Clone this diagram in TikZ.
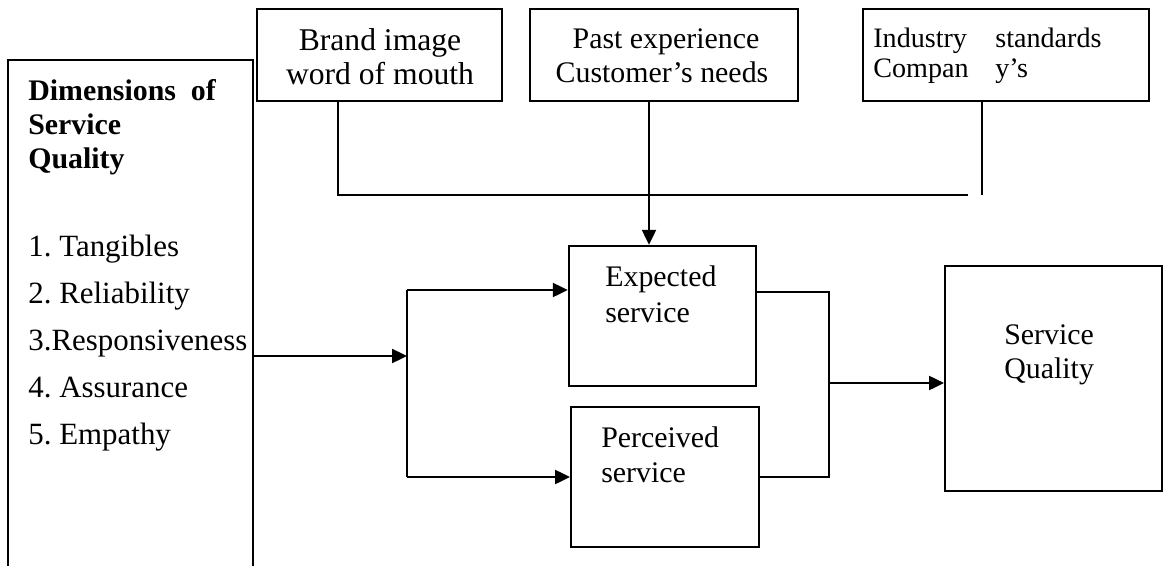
\documentclass[tikz,border=0pt]{standalone}
\usepackage{fontspec}
\setmainfont{Liberation Serif}
\usetikzlibrary{arrows.meta}
\usetikzlibrary{fit}
\usetikzlibrary{positioning}
\tikzset{box/.style = {draw, line width=1.1pt, inner sep=0pt}}
\tikzset{wire/.style = {line width=1.1pt}}
\tikzset{arr/.style = {wire, -{Triangle[length=8.5pt,width=8pt]}}}
\tikzset{lbl/.style = {anchor=base west, inner sep=0pt, font=\fontsize{17}{20}\selectfont\frenchspacing}}
\tikzset{blbl/.style = {lbl, font=\fontsize{17}{20}\selectfont\bfseries}}
\tikzset{ilbl/.style = {lbl, font=\fontsize{17.6}{20}\selectfont\frenchspacing}}
\tikzset{clbl/.style = {lbl, anchor=base}}
\tikzset{slbl/.style = {lbl, font=\fontsize{16}{19}\selectfont}}

\begin{document}
\begin{tikzpicture}[x=0.02cm, y=-0.02cm]
        \useasboundingbox (0,0) rectangle (1170,565);
        \clip (0,0) rectangle (1170,565);
        % boxes
        \node[box, line width=1.7pt, fit={(8,60) (253,640)}] (dims) {};
        \node[box, line width=1.5pt, fit={(257,9) (502,101)}] (brand) {};
        \node[box, fit={(530,9) (798,101)}] (past) {};
        \node[box, fit={(863,9) (1149,101)}] (industry) {};
        \node[box, line width=1.4pt, fit={(569,246) (756,386)}] (expected) {};
        \node[box, fit={(571,407) (759,547)}] (perceived) {};
        \node[box, fit={(945,266) (1162,491)}] (quality) {};
        % left column
        \node[blbl] (dims-1) at (28,100) {Dimensions\ \ of};
        \node[blbl] (dims-2) at (28,134) {Service};
        \node[blbl] (dims-3) at (28,168) {Quality};
        \node[ilbl] (item-1) at (28,256) {1. Tangibles};
        \node[ilbl] (item-2) at (28,303) {2. Reliability};
        \node[ilbl] (item-3) at (28,350) {3.Responsiveness};
        \node[ilbl] (item-4) at (28,397) {4. Assurance};
        \node[ilbl] (item-5) at (28,444) {5. Empathy};
        % top row
        \node[clbl, font=\fontsize{18}{20}\selectfont] (brand-1) at (380,50) {Brand image};
        \node[clbl, font=\fontsize{18}{20}\selectfont] (brand-2) at (380,84) {word of mouth};
        \node[clbl] (past-1) at (666,48) {Past experience};
        \node[clbl] (past-2) at (662,82) {Customer’s needs};
        \node[slbl] (ind-1) at (873,47) {Industry};
        \node[slbl] (ind-2) at (995,47) {standards};
        \node[slbl] (ind-3) at (873,77) {Compan};
        \node[slbl] (ind-4) at (995,77) {y’s};
        % middle and right
        \node[lbl] (exp-1) at (605,286) {Expected};
        \node[lbl] (exp-2) at (605,322) {service};
        \node[lbl] (per-1) at (601,447) {Perceived};
        \node[lbl] (per-2) at (601,482) {service};
        \node[lbl] (qual-1) at (1004,344) {Service};
        \node[lbl] (qual-2) at (1004,378) {Quality};
        % expectation inputs
        \coordinate (bus-l) at (338,195);
        \coordinate (bus-r) at (968,195);
        \coordinate (ind-end) at (982,195);
        \coordinate (drop) at (649,195);
        \draw[wire] (brand.south -| bus-l) -- (bus-l) -- (bus-r);
        \draw[wire] (industry.south -| ind-end) -- (ind-end);
        \draw[arr] (past.south -| drop) -- (drop |- expected.north);
        % dimensions split into expected / perceived
        \coordinate (split) at (407,356);
        \coordinate (split-t) at (407,290);
        \coordinate (split-b) at (407,477);
        \draw[arr] (dims.east |- split) -- (split);
        \draw[wire] (split-t) -- (split-b);
        \draw[arr] (split-t) -- (split-t -| expected.west);
        \draw[arr] (split-b) -- (perceived.west);
        % gap merges into quality
        \coordinate (merge-t) at (829,292);
        \coordinate (merge-b) at (829,477);
        \coordinate (merge) at (829,383);
        \draw[wire] (expected.east |- merge-t) -- (merge-t) -- (merge-b) -- (perceived.east |- merge-b);
        \draw[arr] (merge) -- (merge -| quality.west);
\end{tikzpicture}
\end{document}
